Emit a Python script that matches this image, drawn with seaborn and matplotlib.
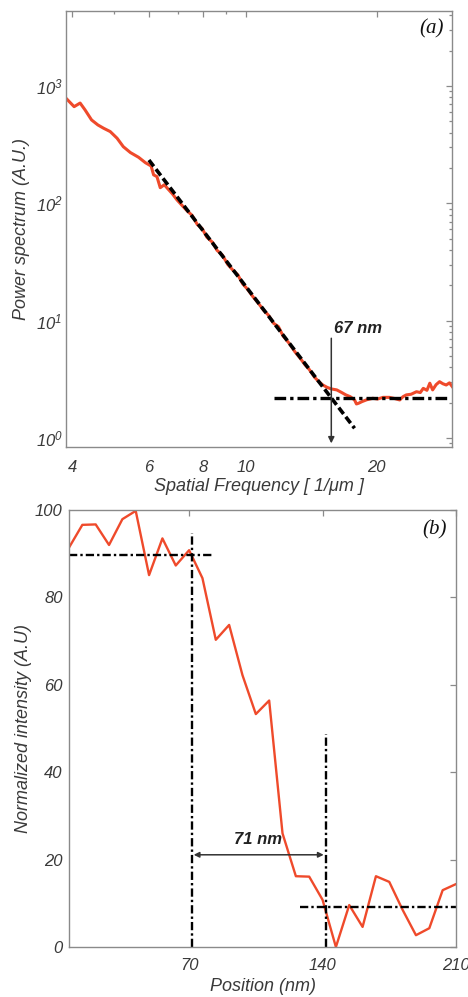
import matplotlib
matplotlib.use("Agg")
import matplotlib.pyplot as plt
import seaborn as sns
import numpy as np
from matplotlib.ticker import FixedLocator, NullFormatter, LogLocator

# ---------------- data: panel (a) power spectrum ----------------
freq = [3.87, 4.04, 4.17, 4.28, 4.43, 4.58, 4.72, 4.89, 5.07, 5.24, 5.44, 5.68,
        5.89, 6.07, 6.15, 6.26, 6.37, 6.51, 6.62, 6.80, 6.96, 7.15, 7.35, 7.54,
        7.75, 7.95, 8.15, 8.40, 8.60, 8.85, 9.10, 9.35, 9.60, 9.85, 10.1, 10.4,
        10.7, 11.0, 11.3, 11.6, 11.9, 12.2, 12.6, 13.0, 13.4, 13.7, 14.0, 14.4,
        14.7, 15.05, 15.4, 15.74, 16.2, 16.6, 17.0, 17.4, 17.8, 17.98, 18.2, 18.5,
        19.0, 19.6, 20.1, 20.7, 21.4, 22.0, 22.6, 23.0, 23.4, 24.0, 24.7, 25.2,
        25.6, 26.1, 26.5, 26.9, 27.4, 27.9, 28.4, 28.9, 29.4, 30.0]
power = [787, 667, 716, 626, 514, 466, 437, 409, 359, 304, 271, 247,
         222, 208, 175, 169, 136, 144, 134, 120, 107, 96, 86, 79,
         66, 61, 51.5, 46.5, 39.8, 36.2, 30.2, 27.0, 24.6, 20.6, 18.6, 16.0,
         14.1, 12.3, 11.1, 9.5, 8.9, 7.4, 6.4, 5.4, 4.7, 4.2, 3.85, 3.3,
         3.05, 2.83, 2.70, 2.62, 2.57, 2.45, 2.33, 2.25, 2.11, 1.95, 1.98, 2.04,
         2.12, 2.18, 2.15, 2.22, 2.22, 2.17, 2.11, 2.25, 2.33, 2.36, 2.48, 2.44,
         2.65, 2.55, 2.93, 2.57, 2.85, 3.02, 2.90, 2.83, 2.95, 2.67]
fit_x = [6.0, 17.8]          # power-law fit segment
fit_y = [234, 1.21]
noise_x = [11.6, 29.2]       # noise floor level
noise_y = [2.18, 2.18]
cut_x = 15.74                # cutoff arrow
cut_y = [7.08, 0.90]
label_a = "67 nm"
label_a_pos = (16.0, 8.5)
xticks_a = [4, 6, 8, 10, 20]
xminor_a = [5, 7, 9]
yticks_a = [1, 10, 100, 1000]
ytick_labels_a = [r"$10^{0}$", r"$10^{1}$", r"$10^{2}$", r"$10^{3}$"]

# ---------------- data: panel (b) edge profile ----------------
position = list(range(7, 211, 7))
intensity = [91.4, 96.6, 96.7, 92.0, 97.9, 99.8, 85.1, 93.5, 87.3, 90.8,
             84.4, 70.3, 73.7, 62.2, 53.3, 56.4, 26.0, 16.2, 16.1, 10.8,
             0.0, 9.6, 4.6, 16.2, 14.9, 8.5, 2.7, 4.3, 13.0, 14.4]
top_level_x = [7, 82]
top_level_y = [89.7, 89.7]
bot_level_x = [128, 210]
bot_level_y = [9.2, 9.2]
edge1_x = [71.4, 71.4]
edge1_y = [0, 94.7]
edge2_x = [141.7, 141.7]
edge2_y = [0, 48.7]
width_arrow_x = [72.4, 140.6]
width_arrow_y = 21.1
label_b = "71 nm"
label_b_pos = (106.3, 24.7)
xticks_b = [70, 140, 210]
yticks_b = [0, 20, 40, 60, 80, 100]

# ---------------- style ----------------
sns.set_theme(style="white")
plt.rcParams["font.family"] = ["Liberation Sans", "DejaVu Sans"]
plt.rcParams["mathtext.fontset"] = "custom"
plt.rcParams["mathtext.rm"] = "Liberation Sans:italic"
plt.rcParams["mathtext.it"] = "Liberation Sans:italic"

RED = "#EF4A2B"
SPINE = "#8a8a8a"
TXT = "#3a3a3a"

fig = plt.figure(figsize=(4.68, 9.97), dpi=100)
ax1 = fig.add_axes([66 / 468, 1 - 447 / 997, 386 / 468, 436 / 997])
ax2 = fig.add_axes([69 / 468, 1 - 947 / 997, 387 / 468, 437 / 997])

for ax in (ax1, ax2):
    for s in ax.spines.values():
        s.set_color(SPINE)
        s.set_linewidth(1.0)
        s.set_visible(True)

# ---------------- panel (a) ----------------
sns.lineplot(x=freq, y=power, ax=ax1, color=RED, lw=2.2, estimator=None, sort=False)
ax1.set_xscale("log")
ax1.set_yscale("log")
ax1.plot(fit_x, fit_y, color="black", lw=2.6, dashes=(2.2, 1.0))
ax1.plot(noise_x, noise_y, color="black", lw=2.4, dashes=(3.5, 1.2, 1.0, 1.2))
ax1.annotate("", xy=(cut_x, cut_y[1]), xytext=(cut_x, cut_y[0]),
             arrowprops=dict(arrowstyle="-|>", color="#333333", lw=1.1,
                             mutation_scale=9, shrinkA=0, shrinkB=0))
ax1.text(label_a_pos[0], label_a_pos[1], label_a, fontsize=12, fontweight="bold",
         style="italic", color="#222222", va="center", ha="left")
ax1.set_xlim(3.87, 29.8)
ax1.set_ylim(0.838, 4360)
ax1.xaxis.set_major_locator(FixedLocator(xticks_a))
ax1.set_xticklabels([str(t) for t in xticks_a])
ax1.xaxis.set_minor_locator(FixedLocator(xminor_a))
ax1.xaxis.set_minor_formatter(NullFormatter())
ax1.yaxis.set_major_locator(FixedLocator(yticks_a))
ax1.set_yticklabels(ytick_labels_a)
ax1.yaxis.set_minor_locator(LogLocator(base=10, subs=np.arange(2, 10)))
ax1.yaxis.set_minor_formatter(NullFormatter())
ax1.set_xlabel("Spatial Frequency [ 1/μm ]", fontsize=13, style="italic", color=TXT)
ax1.set_ylabel("Power spectrum (A.U.)", fontsize=13, style="italic", color=TXT)
ax1.xaxis.set_label_coords(0.5, -0.071)
ax1.xaxis.label.set_va("top")
ax1.yaxis.set_label_coords(-0.093, 0.5)
ax1.text(0.946, 0.959, "(a)", transform=ax1.transAxes, fontsize=15,
         family=["Liberation Serif"], style="italic", ha="center", va="center",
         color="#111111")

# ---------------- panel (b) ----------------
sns.lineplot(x=position, y=intensity, ax=ax2, color=RED, lw=1.7, estimator=None, sort=False)
dd = (3.5, 1.3, 1.0, 1.3)
ax2.plot(top_level_x, top_level_y, color="black", lw=1.7, dashes=dd)
ax2.plot(bot_level_x, bot_level_y, color="black", lw=1.7, dashes=dd)
ax2.plot(edge1_x, edge1_y, color="black", lw=1.7, dashes=dd)
ax2.plot(edge2_x, edge2_y, color="black", lw=1.7, dashes=dd)
ax2.annotate("", xy=(width_arrow_x[1], width_arrow_y), xytext=(width_arrow_x[0], width_arrow_y),
             arrowprops=dict(arrowstyle="<|-|>", color="#333333", lw=1.1,
                             mutation_scale=8, shrinkA=0, shrinkB=0))
ax2.text(label_b_pos[0], label_b_pos[1], label_b, fontsize=12, fontweight="bold",
         style="italic", color="#222222", va="center", ha="center")
ax2.set_xlim(7, 210)
ax2.set_ylim(0, 100)
ax2.set_xticks(xticks_b)
ax2.set_xticklabels([str(t) for t in xticks_b])
ax2.set_yticks(yticks_b)
ax2.set_yticklabels([str(t) for t in yticks_b])
ax2.set_xlabel("Position (nm)", fontsize=13, style="italic", color=TXT)
ax2.set_ylabel("Normalized intensity (A.U)", fontsize=13, style="italic", color=TXT)
ax2.xaxis.set_label_coords(0.5, -0.071)
ax2.xaxis.label.set_va("top")
ax2.yaxis.set_label_coords(-0.096, 0.5)
ax2.text(0.945, 0.954, "(b)", transform=ax2.transAxes, fontsize=15,
         family=["Liberation Serif"], style="italic", ha="center", va="center",
         color="#111111")

for ax in (ax1, ax2):
    ax.tick_params(which="both", direction="in", top=True, right=True,
                   color=SPINE, width=0.9, labelcolor=TXT, labelsize=12)
    ax.tick_params(which="major", length=4)
    ax.tick_params(which="minor", length=2.5)
    for lab in ax.get_xticklabels() + ax.get_yticklabels():
        lab.set_fontstyle("italic")
ax1.tick_params(axis="y", which="major", pad=2.5)
ax1.tick_params(axis="x", which="major", pad=9)
ax2.tick_params(axis="y", which="major", pad=4.5)
ax2.tick_params(axis="x", which="major", pad=8)

fig.savefig("out.png", dpi=100)
